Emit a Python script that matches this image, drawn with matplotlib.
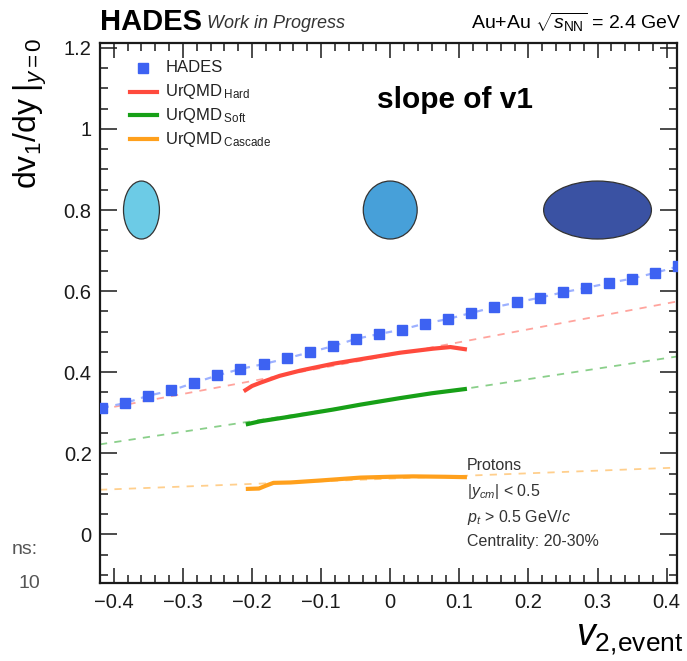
import matplotlib.pyplot as plt
from matplotlib.patches import Ellipse
from matplotlib.ticker import MultipleLocator

plt.rcParams['font.family'] = ['Liberation Sans', 'DejaVu Sans']
plt.rcParams['mathtext.fontset'] = 'custom'
plt.rcParams['mathtext.rm'] = 'Liberation Sans'
plt.rcParams['mathtext.it'] = 'Liberation Sans:italic'
plt.rcParams['mathtext.bf'] = 'Liberation Sans:bold'

# HADES slope of v1 vs event v2
hades_v2 = [-0.4167, -0.3833, -0.35, -0.3167, -0.2833, -0.25, -0.2167, -0.1833,
            -0.15, -0.1167, -0.0833, -0.05, -0.0167, 0.0167, 0.05, 0.0833,
            0.1167, 0.15, 0.1833, 0.2167, 0.25, 0.2833, 0.3167, 0.35, 0.3833, 0.4167]
hades_slope = [0.312, 0.324, 0.342, 0.355, 0.374, 0.392, 0.408, 0.420,
               0.434, 0.449, 0.464, 0.482, 0.494, 0.505, 0.520, 0.531,
               0.546, 0.560, 0.572, 0.584, 0.597, 0.608, 0.620, 0.631, 0.645, 0.661]

# UrQMD curves
hard_v2 = [-0.212, -0.2, -0.188, -0.16, -0.13, -0.082, -0.043, 0.014, 0.062, 0.087, 0.111]
hard_slope = [0.353, 0.366, 0.374, 0.391, 0.404, 0.421, 0.432, 0.448, 0.458, 0.462, 0.456]
soft_v2 = [-0.209, -0.188, -0.15, -0.082, -0.043, 0.014, 0.06, 0.111]
soft_slope = [0.271, 0.279, 0.289, 0.308, 0.320, 0.336, 0.348, 0.359]
casc_v2 = [-0.209, -0.19, -0.18, -0.169, -0.144, -0.1, -0.043, 0.0, 0.033, 0.08, 0.111]
casc_slope = [0.112, 0.113, 0.120, 0.127, 0.128, 0.133, 0.140, 0.142, 0.143, 0.142, 0.141]

# linear extrapolations (end points)
fit_v2 = [-0.42, 0.42]
hard_fit = [0.308, 0.576]
soft_fit = [0.222, 0.440]
casc_fit = [0.110, 0.165]

# event shape sketches
shape_v2 = [-0.36, 0.0, 0.30]
shape_y = [0.80, 0.80, 0.80]
shape_w = [0.052, 0.078, 0.156]
shape_h = [0.143, 0.143, 0.143]
shape_col = ['#6ccbe6', '#47a0d9', '#3a52a3']

c_hades = '#3d62f2'
c_hard = '#ff4a3d'
c_soft = '#17a017'
c_casc = '#ffa01c'

fig = plt.figure(figsize=(6.87, 6.61), dpi=100)
ax = fig.add_axes([100/687, 78/661, 577/687, 540/661])

for x, y, w, h, c in zip(shape_v2, shape_y, shape_w, shape_h, shape_col):
    ax.add_patch(Ellipse((x, y), w, h, facecolor=c, edgecolor='#333333', lw=0.9, zorder=2))

ax.plot(fit_v2, hard_fit, ls=(0, (4, 4)), color=c_hard, lw=1.3, alpha=0.5, zorder=2)
ax.plot(fit_v2, soft_fit, ls=(0, (4, 4)), color=c_soft, lw=1.3, alpha=0.5, zorder=2)
ax.plot(fit_v2, casc_fit, ls=(0, (4, 4)), color=c_casc, lw=1.3, alpha=0.5, zorder=2)

ax.plot(hard_v2, hard_slope, color=c_hard, lw=3, solid_capstyle='butt', zorder=3)
ax.plot(soft_v2, soft_slope, color=c_soft, lw=3, solid_capstyle='butt', zorder=3)
ax.plot(casc_v2, casc_slope, color=c_casc, lw=3, solid_capstyle='butt', zorder=3)

ax.plot(hades_v2, hades_slope, ls=(0, (3, 3)), color='#9db1ff', lw=1.6, zorder=3)
ax.plot(hades_v2, hades_slope, ls='none', marker='s', ms=6.5, color=c_hades,
        mec=c_hades, zorder=4, clip_on=True)

ax.set_xlim(-0.42, 0.415)
ax.set_ylim(-0.12, 1.212)
ax.xaxis.set_major_locator(MultipleLocator(0.1))
ax.xaxis.set_minor_locator(MultipleLocator(0.02))
ax.yaxis.set_major_locator(MultipleLocator(0.2))
ax.yaxis.set_minor_locator(MultipleLocator(0.05))
ax.set_xticks([-0.4, -0.3, -0.2, -0.1, 0, 0.1, 0.2, 0.3, 0.4])
ax.set_xticklabels(['\u22120.4', '\u22120.3', '\u22120.2', '\u22120.1', '0', '0.1', '0.2', '0.3', '0.4'])
ax.set_yticks([0, 0.2, 0.4, 0.6, 0.8, 1.0, 1.2])
ax.set_yticklabels(['0', '0.2', '0.4', '0.6', '0.8', '1', '1.2'])
ax.tick_params(which='both', direction='in', top=True, right=True, width=1.1,
               labelsize=14.5, colors='#1a1a1a')
ax.tick_params(axis='x', which='major', length=11, pad=7)
ax.tick_params(axis='y', which='major', length=12, pad=6)
ax.tick_params(which='minor', length=6)
for s in ax.spines.values():
    s.set_linewidth(1.6)
    s.set_color('#1a1a1a')

# legend
leg_y = [0.954, 0.910, 0.866, 0.822]
ax.plot([0.075], [leg_y[0]], 's', ms=6.5, color=c_hades, transform=ax.transAxes)
for yy, c in zip(leg_y[1:], [c_hard, c_soft, c_casc]):
    ax.plot([0.052, 0.099], [yy, yy], color=c, lw=3, transform=ax.transAxes)
leg_txt = ['HADES', r'UrQMD$\,_{\mathrm{Hard}}$', r'UrQMD$\,_{\mathrm{Soft}}$',
           r'UrQMD$\,_{\mathrm{Cascade}}$']
for yy, t in zip(leg_y, leg_txt):
    ax.text(0.113, yy, t, transform=ax.transAxes, fontsize=12, va='center', color='#222222')

ax.text(0.48, 0.895, 'slope of v1', transform=ax.transAxes, fontsize=21.5,
        fontweight='bold', va='center', ha='left')

info = ['Protons', r'$|y_{cm}|$ < 0.5', r'$p_{t}$ > 0.5 GeV/$c$', 'Centrality: 20-30%']
info_y = [0.217, 0.169, 0.122, 0.076]
for yy, t in zip(info_y, info):
    ax.text(0.636, yy, t, transform=ax.transAxes, fontsize=11.5, va='center', color='#333333')

# header
fig.text(100/687, 1 - 22/661, 'HADES', fontsize=21, fontweight='bold', va='center')
fig.text(207/687, 1 - 24/661, 'Work in Progress', fontsize=13, style='italic',
         va='center', color='#333333')
fig.text(681/687, 1 - 22/661, r'Au+Au $\sqrt{s_{\mathrm{NN}}}$ = 2.4 GeV', fontsize=14,
         va='center', ha='right')

fig.text(30/687, 1 - 38/661, r'$\mathrm{dv_1/dy}\;|_{y=0}$', fontsize=23, rotation=90,
         ha='center', va='top')
fig.text(683/687, 16/661, r'$v_{2,\!\mathrm{event}}$', fontsize=27, ha='right', va='baseline')

fig.text(38/687, 1 - 550/661, 'ns:', fontsize=14, ha='right', va='center', color='#555555')
fig.text(40/687, 1 - 583/661, '10', fontsize=14, ha='right', va='center', color='#555555')

fig.savefig('out.png', dpi=100)
